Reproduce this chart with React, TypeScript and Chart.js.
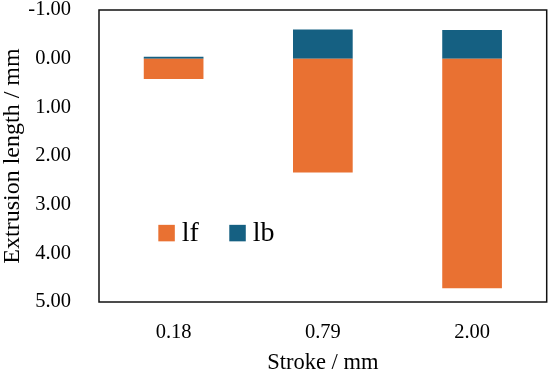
import React, { useEffect, useRef } from "react";
import { Chart, registerables } from "chart.js";

Chart.register(...registerables);

const categories = ["0.18", "0.79", "2.00"];
const seriesNames = ["lf", "lb"];
const lfValues = [0.42, 2.34, 4.72];
const lbValues = [-0.04, -0.6, -0.59];
const yMin = -1;
const yMax = 5;
const yStep = 1;

const ORANGE = "#E97132";
const BLUE = "#156082";
const FONT = "'Liberation Serif', 'Times New Roman', serif";

const framePlugin = {
  id: "frameBox",
  afterDraw(chart: any) {
    const { ctx, chartArea: a } = chart;
    ctx.save();
    ctx.strokeStyle = "#111";
    ctx.lineWidth = 1.5;
    ctx.strokeRect(a.left, a.top, a.right - a.left, a.bottom - a.top);
    ctx.restore();
  },
};

const innerLegendPlugin = {
  id: "innerLegend",
  afterDraw(chart: any) {
    const { ctx, chartArea: a } = chart;
    const w = a.right - a.left;
    const h = a.bottom - a.top;
    const xs = [0.1325, 0.291];
    const yc = a.top + 0.764 * h;
    const box = 16.5;
    ctx.save();
    chart.data.datasets.forEach((ds: any, i: number) => {
      const x = a.left + xs[i] * w;
      ctx.fillStyle = ds.backgroundColor;
      ctx.fillRect(x, yc - box / 2, box, box);
      ctx.fillStyle = "#000";
      ctx.font = `28px ${FONT}`;
      ctx.textBaseline = "alphabetic";
      ctx.textAlign = "left";
      ctx.fillText(ds.label, x + 23.4, yc + box / 2);
    });
    ctx.restore();
  },
};

export default function App() {
  const ref = useRef<HTMLCanvasElement | null>(null);
  useEffect(() => {
    if (!ref.current) return;
    const chart = new Chart(ref.current, {
      type: "bar",
      data: {
        labels: categories,
        datasets: [
          { label: seriesNames[0], data: lfValues, backgroundColor: ORANGE, stack: "s" },
          { label: seriesNames[1], data: lbValues, backgroundColor: BLUE, stack: "s" },
        ],
      },
      options: {
        animation: false,
        responsive: true,
        maintainAspectRatio: false,
        layout: { padding: { top: 10, right: 3.3, left: 0, bottom: 0 } },
        datasets: { bar: { barPercentage: 0.4, categoryPercentage: 1 } },
        plugins: { legend: { display: false }, tooltip: { enabled: false } },
        scales: {
          x: {
            stacked: true,
            grid: { display: false, drawTicks: false },
            border: { display: false },
            ticks: { color: "#000", font: { family: FONT, size: 20.5 }, padding: 18.5 },
            title: { display: true, text: "Stroke / mm", color: "#000", font: { family: FONT, size: 22.5 }, padding: { top: 0, bottom: -3 } },
            afterFit: (s: any) => {
              s.height = 72;
              s.paddingLeft = 0;
              s.paddingRight = 0;
            },
          },
          y: {
            stacked: true,
            reverse: true,
            min: yMin,
            max: yMax,
            grid: { display: false, drawTicks: false },
            border: { display: false },
            ticks: {
              stepSize: yStep,
              color: "#000",
              font: { family: FONT, size: 20.5 },
              padding: 28,
              callback: (v: any) => Number(v).toFixed(2),
            },
            title: { display: true, text: "Extrusion length / mm", color: "#000", font: { family: FONT, size: 24 }, padding: { top: -2, bottom: 0 } },
            afterFit: (s: any) => {
              s.width = 99;
              s.paddingTop = 0;
              s.paddingBottom = 0;
            },
          },
        },
      },
      plugins: [framePlugin, innerLegendPlugin],
    });
    return () => chart.destroy();
  }, []);
  return (
    <div style={{ position: "absolute", left: 0, top: 0, width: 550, height: 374, background: "#fff" }}>
      <canvas ref={ref} />
    </div>
  );
}
